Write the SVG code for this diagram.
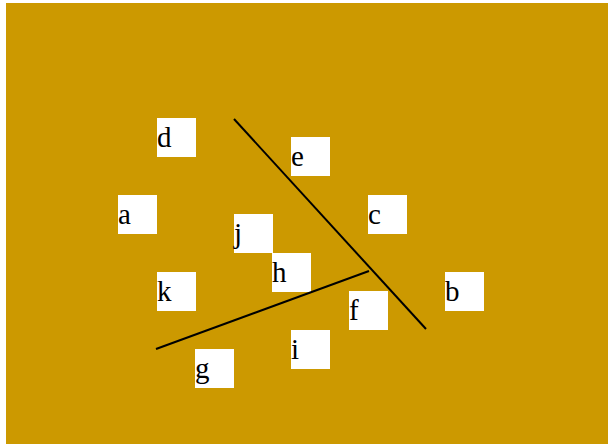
<svg xmlns="http://www.w3.org/2000/svg" width="608" height="444" viewBox="0 0 608 444">
<style>
.box{fill:#ffffff}
.lbl{font-family:"Liberation Serif","Times New Roman",serif;font-size:29px;fill:#000000}
.edge{stroke:#000000;stroke-width:2;fill:none}
</style>
<rect x="6" y="3" width="602" height="441" fill="#cc9900"/>
<g id="node-d"><rect class="box" x="157" y="118" width="39" height="39"/><text class="lbl" x="157" y="147">d</text></g>
<g id="node-e"><rect class="box" x="291" y="137" width="39" height="39"/><text class="lbl" x="291" y="166">e</text></g>
<g id="node-a"><rect class="box" x="118" y="195" width="39" height="39"/><text class="lbl" x="118" y="224">a</text></g>
<g id="node-c"><rect class="box" x="368" y="195" width="39" height="39"/><text class="lbl" x="368" y="224">c</text></g>
<g id="node-j"><rect class="box" x="234" y="214" width="39" height="39"/><text class="lbl" x="234" y="243">j</text></g>
<g id="node-h"><rect class="box" x="272" y="253" width="39" height="39"/><text class="lbl" x="272" y="282">h</text></g>
<g id="node-k"><rect class="box" x="157" y="272" width="39" height="39"/><text class="lbl" x="157" y="301">k</text></g>
<g id="node-b"><rect class="box" x="445" y="272" width="39" height="39"/><text class="lbl" x="445" y="301">b</text></g>
<g id="node-f"><rect class="box" x="349" y="291" width="39" height="39"/><text class="lbl" x="349" y="320">f</text></g>
<g id="node-i"><rect class="box" x="291" y="330" width="39" height="39"/><text class="lbl" x="291" y="359">i</text></g>
<g id="node-g"><rect class="box" x="195" y="349" width="39" height="39"/><text class="lbl" x="195" y="378">g</text></g>
<g id="connectors">
<line class="edge" x1="234" y1="119" x2="426" y2="329"/>
<line class="edge" x1="156" y1="349" x2="369" y2="271"/>
</g>
</svg>
